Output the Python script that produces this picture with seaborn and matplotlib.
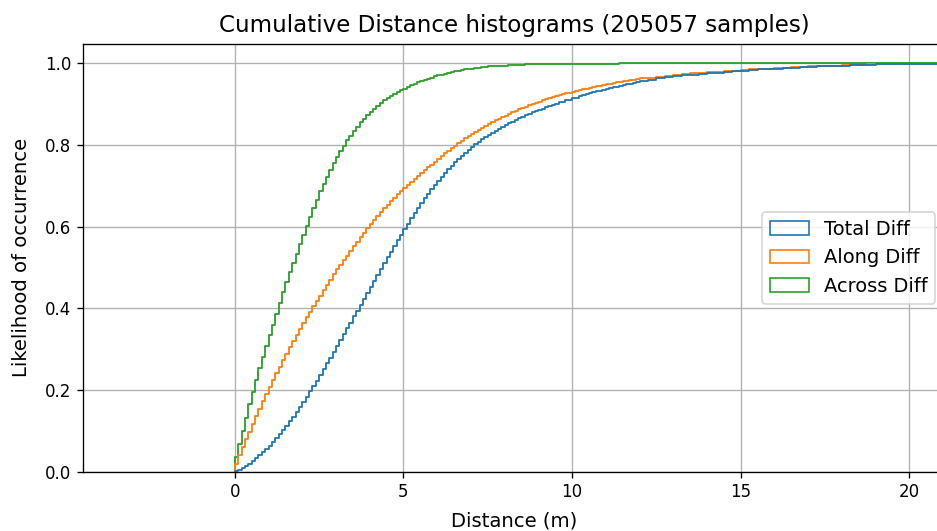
import numpy as np
import pandas as pd
import seaborn as sns
import matplotlib
matplotlib.use("Agg")
import matplotlib.pyplot as plt
from matplotlib.patches import Patch

# bin grid: 0.1 m up to 12 m, 0.25 m up to 21 m
# (a tiny empty bin left of 0 makes the outline rise from the axis)
edges_fine = np.round(np.arange(0.0, 12.001, 0.1), 1)
edges_coarse = np.round(np.arange(12.25, 21.001, 0.25), 2)
bin_edges = np.concatenate([[-0.001], edges_fine, edges_coarse])

# cumulative fraction at each bin's right edge
total_cdf = [
    0.0,
    0.002, 0.005, 0.009, 0.014, 0.020, 0.026, 0.033, 0.040, 0.048, 0.056,
    0.064, 0.073, 0.082, 0.092, 0.102, 0.113, 0.124, 0.135, 0.147, 0.159,
    0.171, 0.184, 0.197, 0.210, 0.223, 0.237, 0.251, 0.265, 0.279, 0.293,
    0.307, 0.322, 0.336, 0.351, 0.365, 0.380, 0.394, 0.409, 0.423, 0.438,
    0.452, 0.467, 0.481, 0.496, 0.510, 0.525, 0.539, 0.553, 0.567, 0.580,
    0.594, 0.607, 0.620, 0.633, 0.645, 0.657, 0.669, 0.680, 0.691, 0.701,
    0.711, 0.721, 0.731, 0.740, 0.749, 0.757, 0.765, 0.773, 0.781, 0.788,
    0.795, 0.802, 0.808, 0.814, 0.820, 0.825, 0.830, 0.835, 0.840, 0.844,
    0.849, 0.853, 0.857, 0.861, 0.865, 0.869, 0.873, 0.876, 0.880, 0.883,
    0.886, 0.889, 0.892, 0.895, 0.898, 0.901, 0.904, 0.906, 0.909, 0.911,
    0.914, 0.916, 0.919, 0.921, 0.924, 0.926, 0.929, 0.931, 0.933, 0.935,
    0.937, 0.939, 0.941, 0.943, 0.945, 0.947, 0.949, 0.950, 0.952, 0.953,
    0.957, 0.960, 0.963, 0.966, 0.968, 0.970, 0.972, 0.974, 0.976, 0.977,
    0.979, 0.980, 0.982, 0.983, 0.985, 0.986, 0.987, 0.988, 0.989, 0.990,
    0.991, 0.992, 0.993, 0.994, 0.994, 0.995, 0.996, 0.996, 0.997, 0.997,
    0.998, 0.998, 0.998, 0.999, 0.999, 0.999,
]
along_cdf = [
    0.0,
    0.020, 0.040, 0.060, 0.079, 0.098, 0.117, 0.136, 0.154, 0.172, 0.190,
    0.207, 0.224, 0.241, 0.257, 0.273, 0.289, 0.305, 0.320, 0.335, 0.350,
    0.364, 0.378, 0.392, 0.405, 0.418, 0.431, 0.444, 0.457, 0.470, 0.483,
    0.495, 0.507, 0.518, 0.529, 0.540, 0.552, 0.563, 0.574, 0.585, 0.596,
    0.606, 0.616, 0.626, 0.636, 0.645, 0.654, 0.663, 0.671, 0.679, 0.687,
    0.695, 0.703, 0.710, 0.717, 0.724, 0.731, 0.738, 0.745, 0.752, 0.759,
    0.766, 0.773, 0.780, 0.786, 0.792, 0.798, 0.804, 0.810, 0.816, 0.821,
    0.826, 0.831, 0.836, 0.841, 0.846, 0.851, 0.856, 0.860, 0.864, 0.868,
    0.872, 0.876, 0.880, 0.884, 0.888, 0.891, 0.894, 0.897, 0.900, 0.903,
    0.906, 0.909, 0.912, 0.914, 0.917, 0.919, 0.922, 0.924, 0.926, 0.928,
    0.930, 0.932, 0.934, 0.936, 0.938, 0.940, 0.942, 0.944, 0.945, 0.947,
    0.948, 0.950, 0.951, 0.953, 0.954, 0.956, 0.957, 0.959, 0.960, 0.961,
    0.963, 0.965, 0.967, 0.969, 0.971, 0.973, 0.975, 0.976, 0.978, 0.979,
    0.981, 0.982, 0.984, 0.985, 0.986, 0.987, 0.988, 0.989, 0.990, 0.991,
    0.992, 0.993, 0.994, 0.994, 0.995, 0.996, 0.996, 0.997, 0.997, 0.998,
    0.998, 0.998, 0.999, 0.999, 0.999, 0.999,
]
across_cdf = [
    0.0,
    0.037, 0.068, 0.100, 0.132, 0.165, 0.196, 0.225, 0.253, 0.280, 0.307,
    0.334, 0.360, 0.387, 0.414, 0.440, 0.464, 0.488, 0.511, 0.534, 0.557,
    0.580, 0.602, 0.624, 0.645, 0.666, 0.686, 0.705, 0.722, 0.739, 0.755,
    0.770, 0.785, 0.798, 0.811, 0.823, 0.834, 0.845, 0.855, 0.864, 0.873,
    0.881, 0.889, 0.896, 0.903, 0.909, 0.915, 0.920, 0.925, 0.930, 0.934,
    0.938, 0.942, 0.946, 0.950, 0.953, 0.956, 0.959, 0.962, 0.965, 0.968,
    0.970, 0.972, 0.974, 0.976, 0.978, 0.980, 0.982, 0.984, 0.985, 0.986,
    0.987, 0.988, 0.989, 0.990, 0.991, 0.992, 0.992, 0.993, 0.993, 0.994,
    0.994, 0.995, 0.995, 0.996, 0.996, 0.996, 0.997, 0.997, 0.997, 0.997,
    0.998, 0.998, 0.998, 0.998, 0.998, 0.998, 0.999, 0.999, 0.999, 0.999,
    0.999, 0.999, 0.999, 0.999, 0.999, 0.999, 0.999, 0.999, 0.999, 0.999,
    0.9992, 0.9992, 0.9993, 0.9993, 0.9994, 0.9994, 0.9995, 0.9995, 0.9996, 0.9996,
    0.9996, 0.9997, 0.9997, 0.9997, 0.9997, 0.9998, 0.9998, 0.9998, 0.9998, 0.9998,
    0.9998, 0.9999, 0.9999, 0.9999, 0.9999, 0.9999, 0.9999, 0.9999, 0.9999, 1.0,
    1.0, 1.0, 1.0, 1.0, 1.0, 1.0, 1.0, 1.0, 1.0, 1.0,
    1.0, 1.0, 1.0, 1.0, 1.0, 1.0,
]

labels = ["Total Diff", "Along Diff", "Across Diff"]
colors = ["#1f77b4", "#ff7f0e", "#2ca02c"]
n_samples = 205057

centers = (bin_edges[:-1] + bin_edges[1:]) / 2
frames = []
for cdf, lab in zip([total_cdf, along_cdf, across_cdf], labels):
    # per-bin share; first bin (just left of 0) is empty
    frames.append(pd.DataFrame({"dist": centers,
                                "share": np.diff(np.r_[0.0, cdf]),
                                "kind": lab}))
df = pd.concat(frames, ignore_index=True)

fig = plt.figure(figsize=(937 / 120, 531 / 120), dpi=120)
ax = fig.add_axes([0.0883, 0.1117, 0.9203, 0.8054])

sns.histplot(data=df, x="dist", weights="share", hue="kind",
             hue_order=labels, palette=colors, bins=list(bin_edges),
             cumulative=True, element="step", fill=False, stat="count",
             common_norm=False, linewidth=1.1, legend=False, ax=ax)

ax.set_xlim(-4.51, 21.06)
ax.set_ylim(0, 1.047)
ax.set_xticks([0, 5, 10, 15, 20])
ax.grid(True)
ax.set_axisbelow(True)
ax.set_title(f"Cumulative Distance histograms ({n_samples} samples)",
             fontsize=13.8, pad=7)
ax.set_xlabel("Distance (m)", fontsize=11.8, labelpad=6)
ax.set_ylabel("Likelihood of occurrence", fontsize=11.8, labelpad=8)

handles = [Patch(facecolor="none", edgecolor=c, label=l) for c, l in zip(colors, labels)]
ax.legend(handles=handles, loc="center right", fontsize=11.6)

fig.savefig("out.png", dpi=120)
